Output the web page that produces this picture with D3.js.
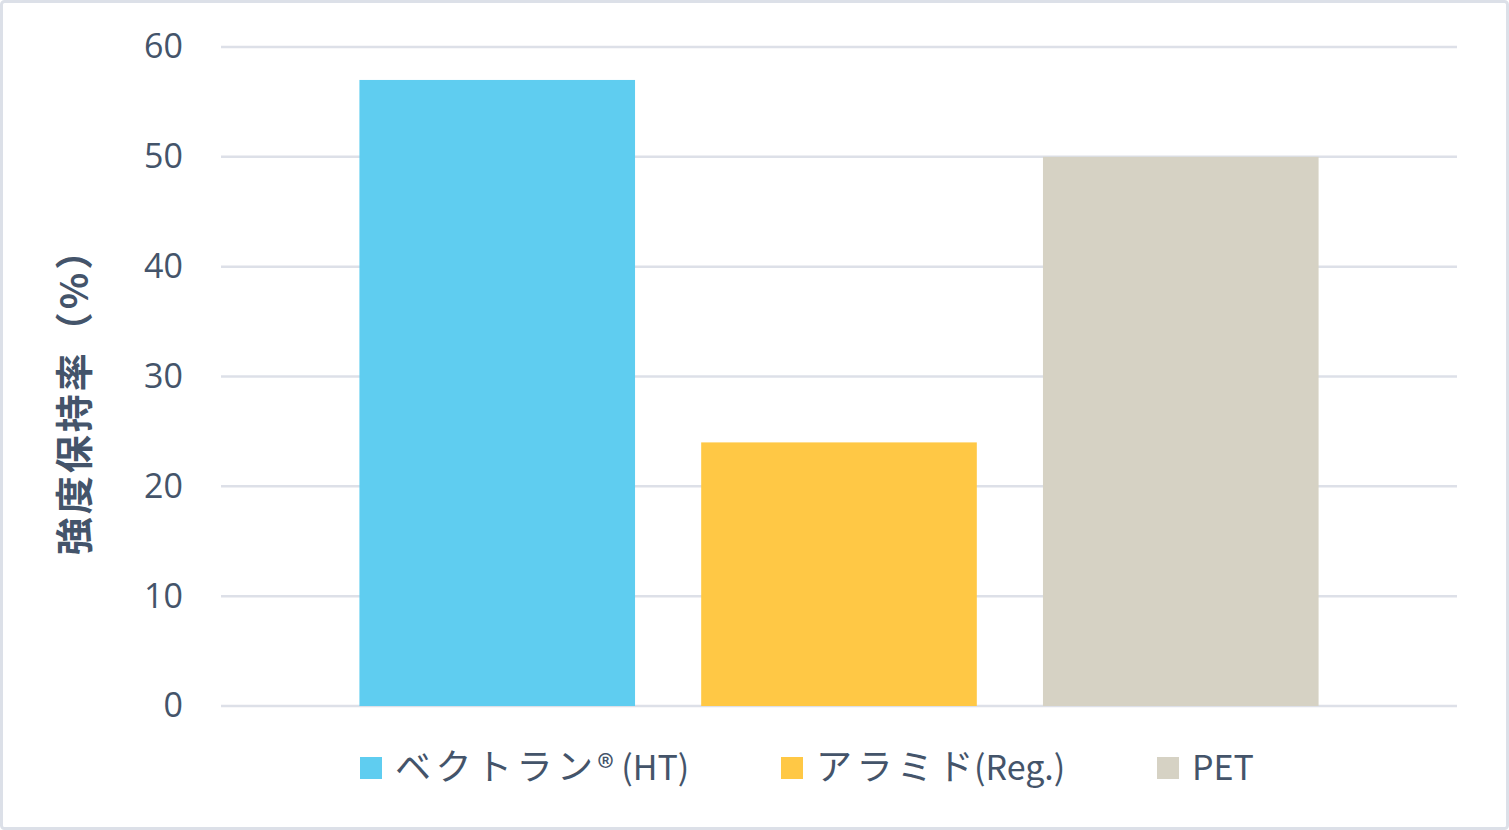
<!DOCTYPE html>
<html><head><meta charset="utf-8">
<script src="https://cdn.jsdelivr.net/npm/d3@7"></script>
<style>
html,body{margin:0;padding:0;background:#fff;}
svg{display:block;}
</style></head>
<body>
<svg id="c" width="1509" height="830"></svg>
<script>
const seriesNames = ["ベクトラン® (HT)", "アラミド(Reg.)", "PET"];
const seriesValues = [57, 24, 50];
const seriesColors = ["#5FCDF0", "#FFC845", "#D6D2C4"];
const yTicks = [0, 10, 20, 30, 40, 50, 60];
const yTitle = "強度保持率（%）";

(function(){
const svg = d3.select("#c");
const W = 1509, H = 830;
const textColor = "#44546A";
const font = "'Open Sans','Noto Sans CJK JP',sans-serif";

svg.append("rect").attr("x",1.5).attr("y",1.5).attr("width",W-3).attr("height",H-3).attr("rx",3)
  .attr("fill","#fff").attr("stroke","#DCE0E8").attr("stroke-width",3);

const pL = 221, pR = 1457, pT = 47, pB = 706;
const y = d3.scaleLinear().domain([0,60]).range([pB, pT]);
const x = d3.scaleBand().domain(seriesNames).range([pL, pR])
  .paddingInner(66/341).paddingOuter(0.405);

// gridlines
svg.append("g").selectAll("line").data(yTicks).join("line")
  .attr("x1",pL).attr("x2",pR)
  .attr("y1",d=>y(d)).attr("y2",d=>y(d))
  .attr("stroke","#DDE0E8").attr("stroke-width",2.5);

// y axis labels
const yAxis = d3.axisLeft(y).tickValues(yTicks).tickSize(0).tickPadding(0);
const ga = svg.append("g").attr("transform",`translate(${183},0)`).call(yAxis);
ga.select(".domain").remove();
ga.selectAll("text").attr("fill",textColor).style("font-family",font).style("font-size","34px");

// bars
svg.append("g").selectAll("rect").data(seriesNames).join("rect")
  .attr("x",d=>x(d)).attr("width",x.bandwidth())
  .attr("y",(d,i)=>y(seriesValues[i])).attr("height",(d,i)=>pB - y(seriesValues[i]))
  .attr("fill",(d,i)=>seriesColors[i]);

// y title
svg.append("text").attr("transform",`translate(71,${392}) rotate(-90)`)
  .attr("text-anchor","middle").attr("dominant-baseline","central").attr("fill",textColor)
  .style("font-family","'Noto Sans CJK JP',sans-serif").style("font-weight","bold").style("font-size","38px")
  .style("letter-spacing","3px")
  .text(yTitle);

// legend
const legX = [360, 781, 1157];
const lg = svg.append("g").selectAll("g").data(seriesNames).join("g")
  .attr("transform",(d,i)=>`translate(${legX[i]},757)`);
lg.append("rect").attr("width",22).attr("height",22).attr("fill",(d,i)=>seriesColors[i]);
const lt = lg.append("text").attr("x",35).attr("y",11).attr("dy","0.36em")
  .attr("fill",textColor).style("font-family","'Noto Sans CJK JP',sans-serif").style("font-size","34px");
lt.each(function(d){
  const t = d3.select(this);
  const parts = d.match(/[\u30A0-\u30FF]+|[^\u30A0-\u30FF]+/g);
  parts.forEach((p,k)=>{
    const isJ = /[\u30A0-\u30FF]/.test(p);
    const sp = t.append("tspan").text(p)
      .style("font-size", isJ ? "36px" : "34px")
      .style("letter-spacing", isJ ? "4.5px" : "0px");
    if (!isJ && k > 0 && p.startsWith("(")) sp.attr("dx", -4);
  });
});
})();
</script>
</body></html>
